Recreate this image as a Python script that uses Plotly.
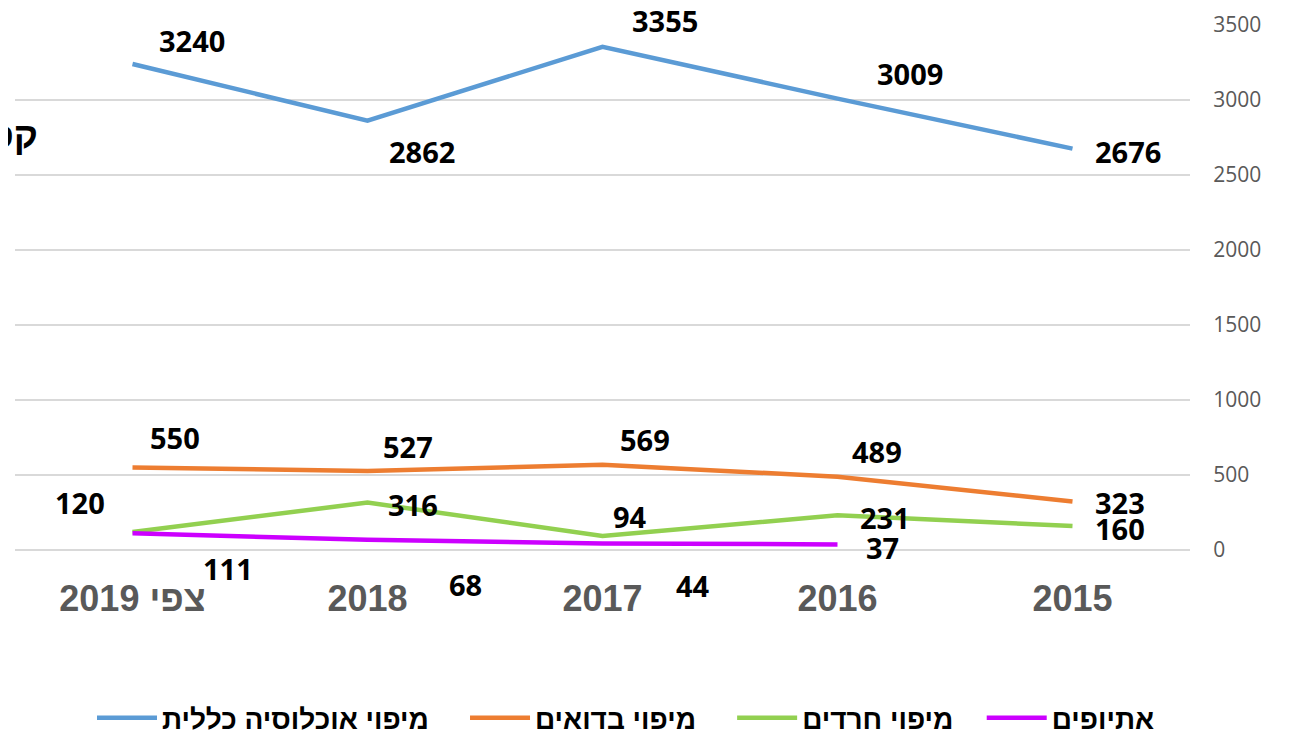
import plotly.graph_objects as go

categories = ["צפי 2019", "2018", "2017", "2016", "2015"]

series_names = ["מיפוי אוכלוסיה כללית", "מיפוי בדואים", "מיפוי חרדים", "אתיופים"]
general = [3240, 2862, 3355, 3009, 2676]
bedouin = [550, 527, 569, 489, 323]
haredi = [120, 316, 94, 231, 160]
ethiopian = [111, 68, 44, 37, None]

y_ticks = [0, 500, 1000, 1500, 2000, 2500, 3000, 3500]

# styling
colors = ["#5B9BD5", "#ED7D31", "#92D050", "#CC00FF"]
label_offsets = [
    [(59, 24), (54, -31), (62, 26), (72, 25), (55, -3)],
    [(42, 30), (40, 24), (42, 25), (39, 25), (47, -1)],
    [(-53, 30), (45, -2), (27, 19), (47, -2), (47, -2)],
    [(95, -35), (98, -45), (90, -42), (45, -3), None],
]
legend_pad = ["\u00a0\u00a0\u00a0\u00a0", "\u00a0\u00a0\u00a0\u00a0", "\u00a0\u00a0\u00a0", ""]

all_series = [general, bedouin, haredi, ethiopian]

fig = go.Figure()
for name, vals, col, pad in zip(series_names, all_series, colors, legend_pad):
    fig.add_trace(go.Scatter(
        x=categories, y=vals, mode="lines", name="<b>" + name + "</b>" + pad,
        line=dict(color=col, width=4.5), connectgaps=False,
    ))

annotations = []
for vals, offs in zip(all_series, label_offsets):
    for idx, (v, off) in enumerate(zip(vals, offs)):
        if v is None or off is None:
            continue
        annotations.append(dict(
            x=idx, y=v, xref="x", yref="y", text="%d" % v,
            showarrow=False, xshift=off[0], yshift=off[1],
            font=dict(family="Open Sans, sans-serif", size=29, color="#000000", weight="bold"),
        ))

annotations.append(dict(
    x=0.0215, y=0.79, xref="paper", yref="paper", xanchor="right", yanchor="middle",
    text="קס", showarrow=False,
    font=dict(family="Liberation Sans, Arial, sans-serif", size=37, color="#000000", weight="bold"),
))

fig.update_layout(
    width=1281, height=727,
    margin=dict(l=7, r=99, t=17, b=185, autoexpand=False),
    paper_bgcolor="#FFFFFF", plot_bgcolor="#FFFFFF",
    annotations=annotations,
    showlegend=True,
    legend=dict(
        orientation="h", x=0.52, xanchor="center", y=-0.32, yanchor="middle",
        font=dict(family="Liberation Sans, Arial, sans-serif", size=28, color="#000000"),
        traceorder="normal", itemwidth=60,
    ),
    xaxis=dict(
        type="category", categoryorder="array", categoryarray=categories,
        range=[-0.5, 4.5], automargin=False,
        showgrid=False, showline=False, zeroline=False,
        ticks="outside", ticklen=17, tickcolor="rgba(0,0,0,0)",
        tickfont=dict(family="Liberation Sans, Arial, sans-serif", size=36, color="#595959", weight="bold"),
    ),
    yaxis=dict(
        range=[0, 3500], tickvals=y_ticks, side="right", automargin=False,
        showgrid=True, gridcolor="#D9D9D9", gridwidth=1.5,
        zeroline=True, zerolinecolor="#D9D9D9", zerolinewidth=1.5,
        ticks="outside", ticklen=18, tickcolor="rgba(0,0,0,0)",
        tickfont=dict(family="Open Sans, sans-serif", size=21, color="#595959"),
    ),
)

fig.write_html("out.html")
